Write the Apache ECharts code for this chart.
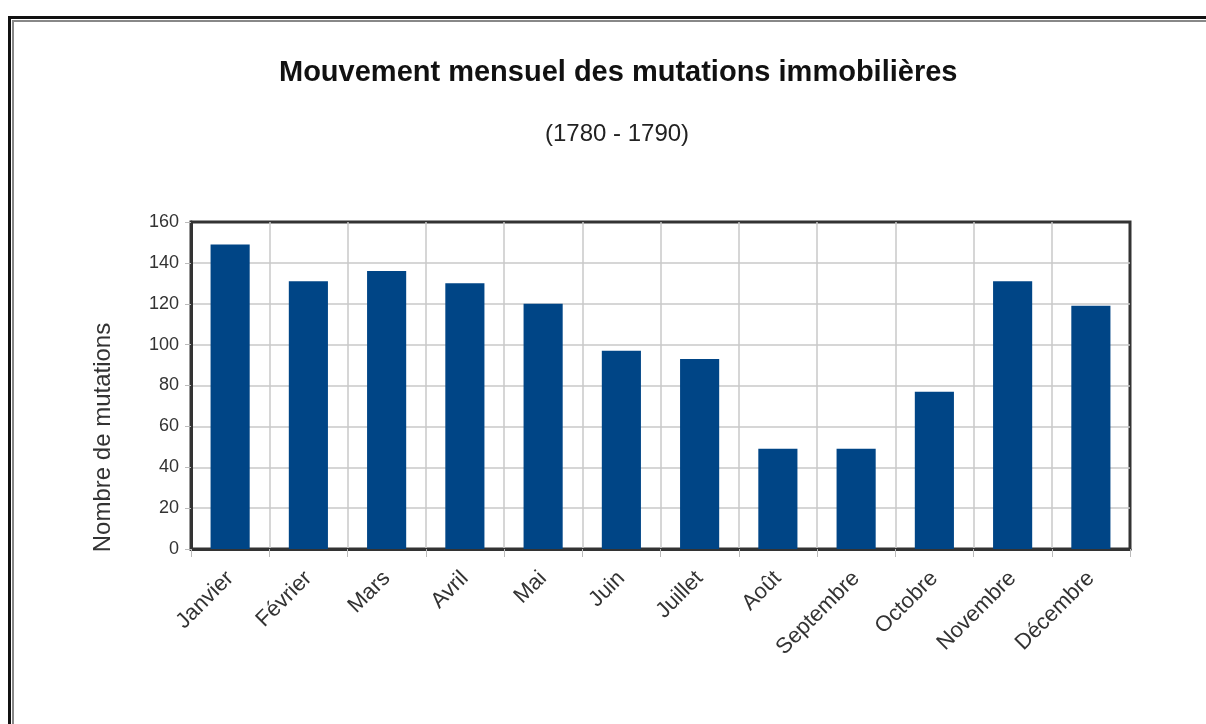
<!DOCTYPE html>
<html><head><meta charset="utf-8">
<script src="https://cdn.jsdelivr.net/npm/echarts@6/dist/echarts.min.js"></script>
<style>
html,body{margin:0;padding:0;background:#fff;overflow:hidden;}
#frame{position:absolute;left:8px;top:16px;width:1300px;height:800px;border-left:3px solid #111;border-top:3px solid #111;box-sizing:border-box;}
#frame2{position:absolute;left:12px;top:20px;width:1300px;height:800px;border-left:2px solid #888;border-top:2px solid #888;box-sizing:border-box;}
#chart{position:absolute;left:0;top:0;width:1206px;height:724px;}
</style></head>
<body>
<div id="frame"></div><div id="frame2"></div>
<div id="chart"></div>
<script>
const categories = ['Janvier','Février','Mars','Avril','Mai','Juin','Juillet','Août','Septembre','Octobre','Novembre','Décembre'];
const values = [149,131,136,130,120,97,93,49,49,77,131,119];
const titleText = 'Mouvement mensuel des mutations immobilières';
const subtitleText = '(1780 - 1790)';
const yName = 'Nombre de mutations';

const chart = echarts.init(document.getElementById('chart'), null, {renderer:'canvas'});
chart.setOption({
  backgroundColor: 'transparent',
  animation: false,
  title: [
    {text: titleText, left: 274, top: 53, textStyle:{fontFamily:'Liberation Sans', fontSize:29, fontWeight:'bold', color:'#111'}},
    {text: subtitleText, left: 540, top: 117, textStyle:{fontFamily:'Liberation Sans', fontSize:24, fontWeight:'normal', color:'#222'}}
  ],
  grid: {left:191, right:76, top:222, bottom:175, show:true, borderColor:'#333', borderWidth:3, containLabel:false},
  xAxis: {
    type:'category', data:categories,
    axisLine:{show:true, lineStyle:{color:'#333', width:3}},
    axisTick:{show:true, length:8, lineStyle:{color:'#bbb', width:1}},
    splitLine:{show:true, showMinLine:false, showMaxLine:false, lineStyle:{color:'#c8c8c8', width:1.5}},
    axisLabel:{rotate:45, fontFamily:'Liberation Sans', fontSize:22, color:'#333', margin:26}
  },
  yAxis: {
    type:'value', min:0, max:160, interval:20,
    name: yName, nameLocation:'middle', nameGap:76, nameRotate:90,
    nameTextStyle:{fontFamily:'Liberation Sans', fontSize:24, color:'#333', padding:[0,104,0,0]},
    axisLine:{show:true, lineStyle:{color:'#333', width:3}},
    axisTick:{show:true, length:6, lineStyle:{color:'#bbb', width:1}},
    splitLine:{show:true, showMinLine:false, showMaxLine:false, lineStyle:{color:'#c8c8c8', width:1.5}},
    axisLabel:{fontFamily:'Liberation Sans', fontSize:18, color:'#333', margin:12}
  },
  series: [{
    type:'bar', data:values, barWidth:'50%',
    itemStyle:{color:'#004586'}
  }]
});
</script>
</body></html>
